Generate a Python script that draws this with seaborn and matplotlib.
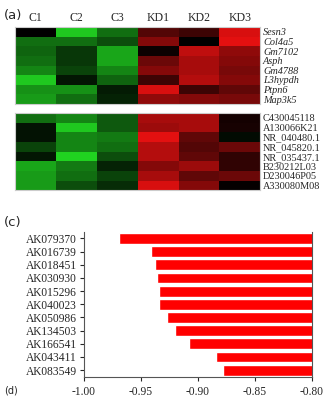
import numpy as np
import pandas as pd
import matplotlib
matplotlib.use("Agg")
import matplotlib.pyplot as plt
import seaborn as sns
from matplotlib.colors import LinearSegmentedColormap

samples = ["C1", "C2", "C3", "KD1", "KD2", "KD3"]

genes_top = ["Sesn3", "Col4a5", "Gm7102", "Asph", "Gm4788", "L3hypdh", "Ptpn6", "Map3k5"]
vals_top = [
    [0.00, -0.90, -0.50, 0.35, 0.25, 0.90],
    [-0.50, -0.50, -0.35, 0.55, 0.00, 0.95],
    [-0.45, -0.25, -0.75, 0.05, 0.80, 0.60],
    [-0.50, -0.25, -0.75, 0.45, 0.70, 0.55],
    [-0.60, -0.30, -0.60, 0.55, 0.70, 0.50],
    [-0.90, -0.10, -0.45, 0.25, 0.75, 0.55],
    [-0.65, -0.65, -0.12, 0.90, 0.25, 0.40],
    [-0.70, -0.50, -0.15, 0.60, 0.55, 0.50],
]

genes_bot = ["C430045118", "A130066K21", "NR_040480.1", "NR_045820.1",
             "NR_035437.1", "B230212L03", "D230046P05", "A330080M08"]
vals_bot = [
    [-0.50, -0.60, -0.40, 0.70, 0.70, 0.08],
    [-0.08, -0.90, -0.40, 0.65, 0.70, 0.10],
    [-0.08, -0.60, -0.55, 0.95, 0.40, -0.05],
    [-0.30, -0.60, -0.50, 0.75, 0.35, 0.45],
    [-0.10, -0.95, -0.35, 0.75, 0.40, 0.20],
    [-0.75, -0.55, -0.15, 0.55, 0.65, 0.20],
    [-0.70, -0.50, -0.30, 0.70, 0.40, 0.45],
    [-0.70, -0.35, -0.20, 0.90, 0.55, 0.02],
]

bar_genes = ["AK079370", "AK016739", "AK018451", "AK030930", "AK015296", "AK040023",
             "AK050986", "AK134503", "AK166541", "AK043411", "AK083549"]
bar_vals = [-0.969, -0.941, -0.938, -0.936, -0.934, -0.934,
            -0.927, -0.920, -0.908, -0.884, -0.878]
x_ticks = [-1.00, -0.95, -0.90, -0.85, -0.80]

sns.set_style("white")
serif = ["Liberation Serif", "DejaVu Serif"]
plt.rcParams["font.family"] = serif

cmap = LinearSegmentedColormap.from_list("gkr", ["#22dd22", "#000000", "#ee1111"])

fig = plt.figure(figsize=(3.29, 3.97), dpi=100)

def draw_heat(rect, data, rows, top_labels, italic):
    ax = fig.add_axes(rect)
    df = pd.DataFrame(data, index=rows, columns=samples)
    sns.heatmap(df, ax=ax, cmap=cmap, vmin=-1, vmax=1, cbar=False)
    ax.yaxis.tick_right()
    ax.set_yticks(np.arange(len(rows)) + 0.5)
    ax.set_yticklabels(rows, rotation=0, fontsize=7.4,
                       fontstyle="italic" if italic else "normal")
    ax.tick_params(axis="both", length=0, pad=2)
    if top_labels:
        ax.xaxis.tick_top()
        ax.set_xticks(np.arange(len(samples)) + 0.5)
        ax.set_xticklabels(samples, fontsize=8.5)
        ax.tick_params(axis="x", pad=2)
    else:
        ax.set_xticks([])
    ax.set_xlabel("")
    ax.set_ylabel("")
    for s in ax.spines.values():
        s.set_visible(True)
        s.set_color("#cccccc")
        s.set_linewidth(0.8)
    return ax

draw_heat([0.046, 0.738, 0.745, 0.194], vals_top, genes_top, True, True)
draw_heat([0.046, 0.521, 0.745, 0.194], vals_bot, genes_bot, False, False)

axb = fig.add_axes([0.255, 0.051, 0.693, 0.365])
bdf = pd.DataFrame({"gene": bar_genes, "value": bar_vals})
sns.barplot(data=bdf, x="value", y="gene", ax=axb, color="#ff0000",
            orient="h", width=0.82, saturation=1)
axb.set_xlim(-1.0, -0.8)
axb.set_xticks(x_ticks)
axb.set_xticklabels([f"{t:.2f}" for t in x_ticks], fontsize=8.3)
axb.tick_params(axis="y", labelsize=8.3, length=3, width=0.8, pad=2, left=True)
axb.tick_params(axis="x", length=3, width=0.8, bottom=True)
axb.set_xlabel("")
axb.set_ylabel("")
for k in ["left", "bottom", "right"]:
    axb.spines[k].set_visible(True)
    axb.spines[k].set_color("#555555")
    axb.spines[k].set_linewidth(0.8)
axb.spines["top"].set_visible(False)

fig.text(0.012, 0.962, "(a)", fontsize=9.5, family="DejaVu Sans", va="center")
fig.text(0.012, 0.44, "(c)", fontsize=9.5, family="DejaVu Sans", va="center")
fig.text(0.012, 0.016, "(d)", fontsize=7, family="DejaVu Sans", va="center")

fig.savefig("out.png", dpi=100)
